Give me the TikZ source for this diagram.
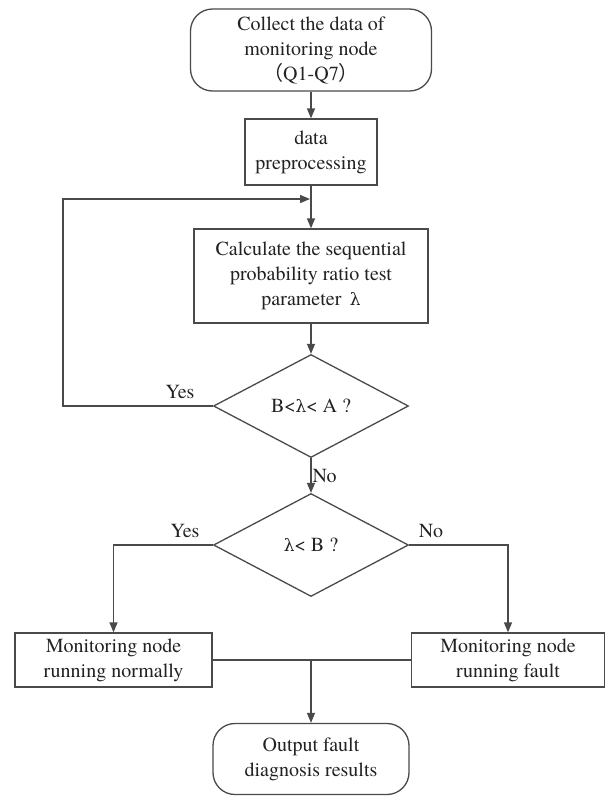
\documentclass[tikz,border=0pt]{standalone}
\usepackage{fontspec}
\setmainfont{TeX Gyre Termes}
\newfontfamily\cjk{Noto Sans CJK SC}
\newfontfamily\grk{DejaVu Serif}
\usetikzlibrary{shapes.geometric,arrows.meta,positioning}
\definecolor{linecol}{HTML}{4A4A4A}
\definecolor{textcol}{HTML}{222222}
\def\lw{1.3pt}
\def\lam{{\grk\fontsize{17}{25}\selectfont λ}}
\tikzset{
  stepbox/.style={draw=linecol,line width=\lw,inner sep=0pt,align=center,text=textcol,font=\fontsize{20}{25}\selectfont},
  endbox/.style={stepbox,rounded corners=22pt},
  ask/.style={stepbox,diamond,minimum width=195pt,minimum height=103pt},
  arr/.style={draw=linecol,line width=\lw,-{Triangle[length=10pt,width=8pt]}},
  lbl/.style={text=textcol,font=\fontsize{20}{25}\selectfont,inner sep=1pt}
}

\begin{document}
\begin{tikzpicture}[x=1pt,y=-1pt]
      \useasboundingbox (0,0) rectangle (606,796);
      \node[endbox,minimum width=241pt,minimum height=82pt] at (311,50) (collect) {Collect the data of\\monitoring node\\{\cjk （}Q1-Q7{\cjk ）}};
      \node[stepbox,minimum width=132pt,minimum height=66pt] at (311,152) (prep) {data\\preprocessing};
      \node[stepbox,minimum width=234pt,minimum height=94pt] at (311,276) (calc) {Calculate the sequential\\probability ratio test\\parameter \,\lam};
      \node[ask] at (311,406) (range) {B<\lam< A ?};
      \node[ask] at (311,545) (low) {\lam< B ?};
      \node[stepbox,minimum width=197pt,minimum height=54pt] at (113.5,660) (normal) {Monitoring node\\running normally};
      \node[stepbox,minimum width=193pt,minimum height=54pt] at (508,660) (fault) {Monitoring node\\running fault};
      \node[endbox,minimum width=196pt,minimum height=71pt] at (311,759) (output) {Output fault\\diagnosis results};
      \coordinate (back) at (63,199);
      \coordinate (join) at (311,199);
      \coordinate (merge) at (311,660);
      \draw[arr] (collect) -- (prep);
      \draw[arr] (prep) -- (calc);
      \draw[arr] (calc) -- (range);
      \draw[arr,shorten >=1pt] (range.west) -| (back) -- (join);
      \node[lbl] at (180,392) (yes1) {Yes};
      \draw[arr] (range) -- (low) node[lbl,midway,right] (no1) {No};
      \draw[arr] (low.west) -| (normal);
      \node[lbl] at (185,531) (yes2) {Yes};
      \draw[arr] (low.east) -| (fault);
      \node[lbl] at (431,531) (no2) {No};
      \draw[draw=linecol,line width=\lw] (normal.east) -- (fault.west);
      \draw[arr] (merge) -- (output);
    \end{tikzpicture}
\end{document}
